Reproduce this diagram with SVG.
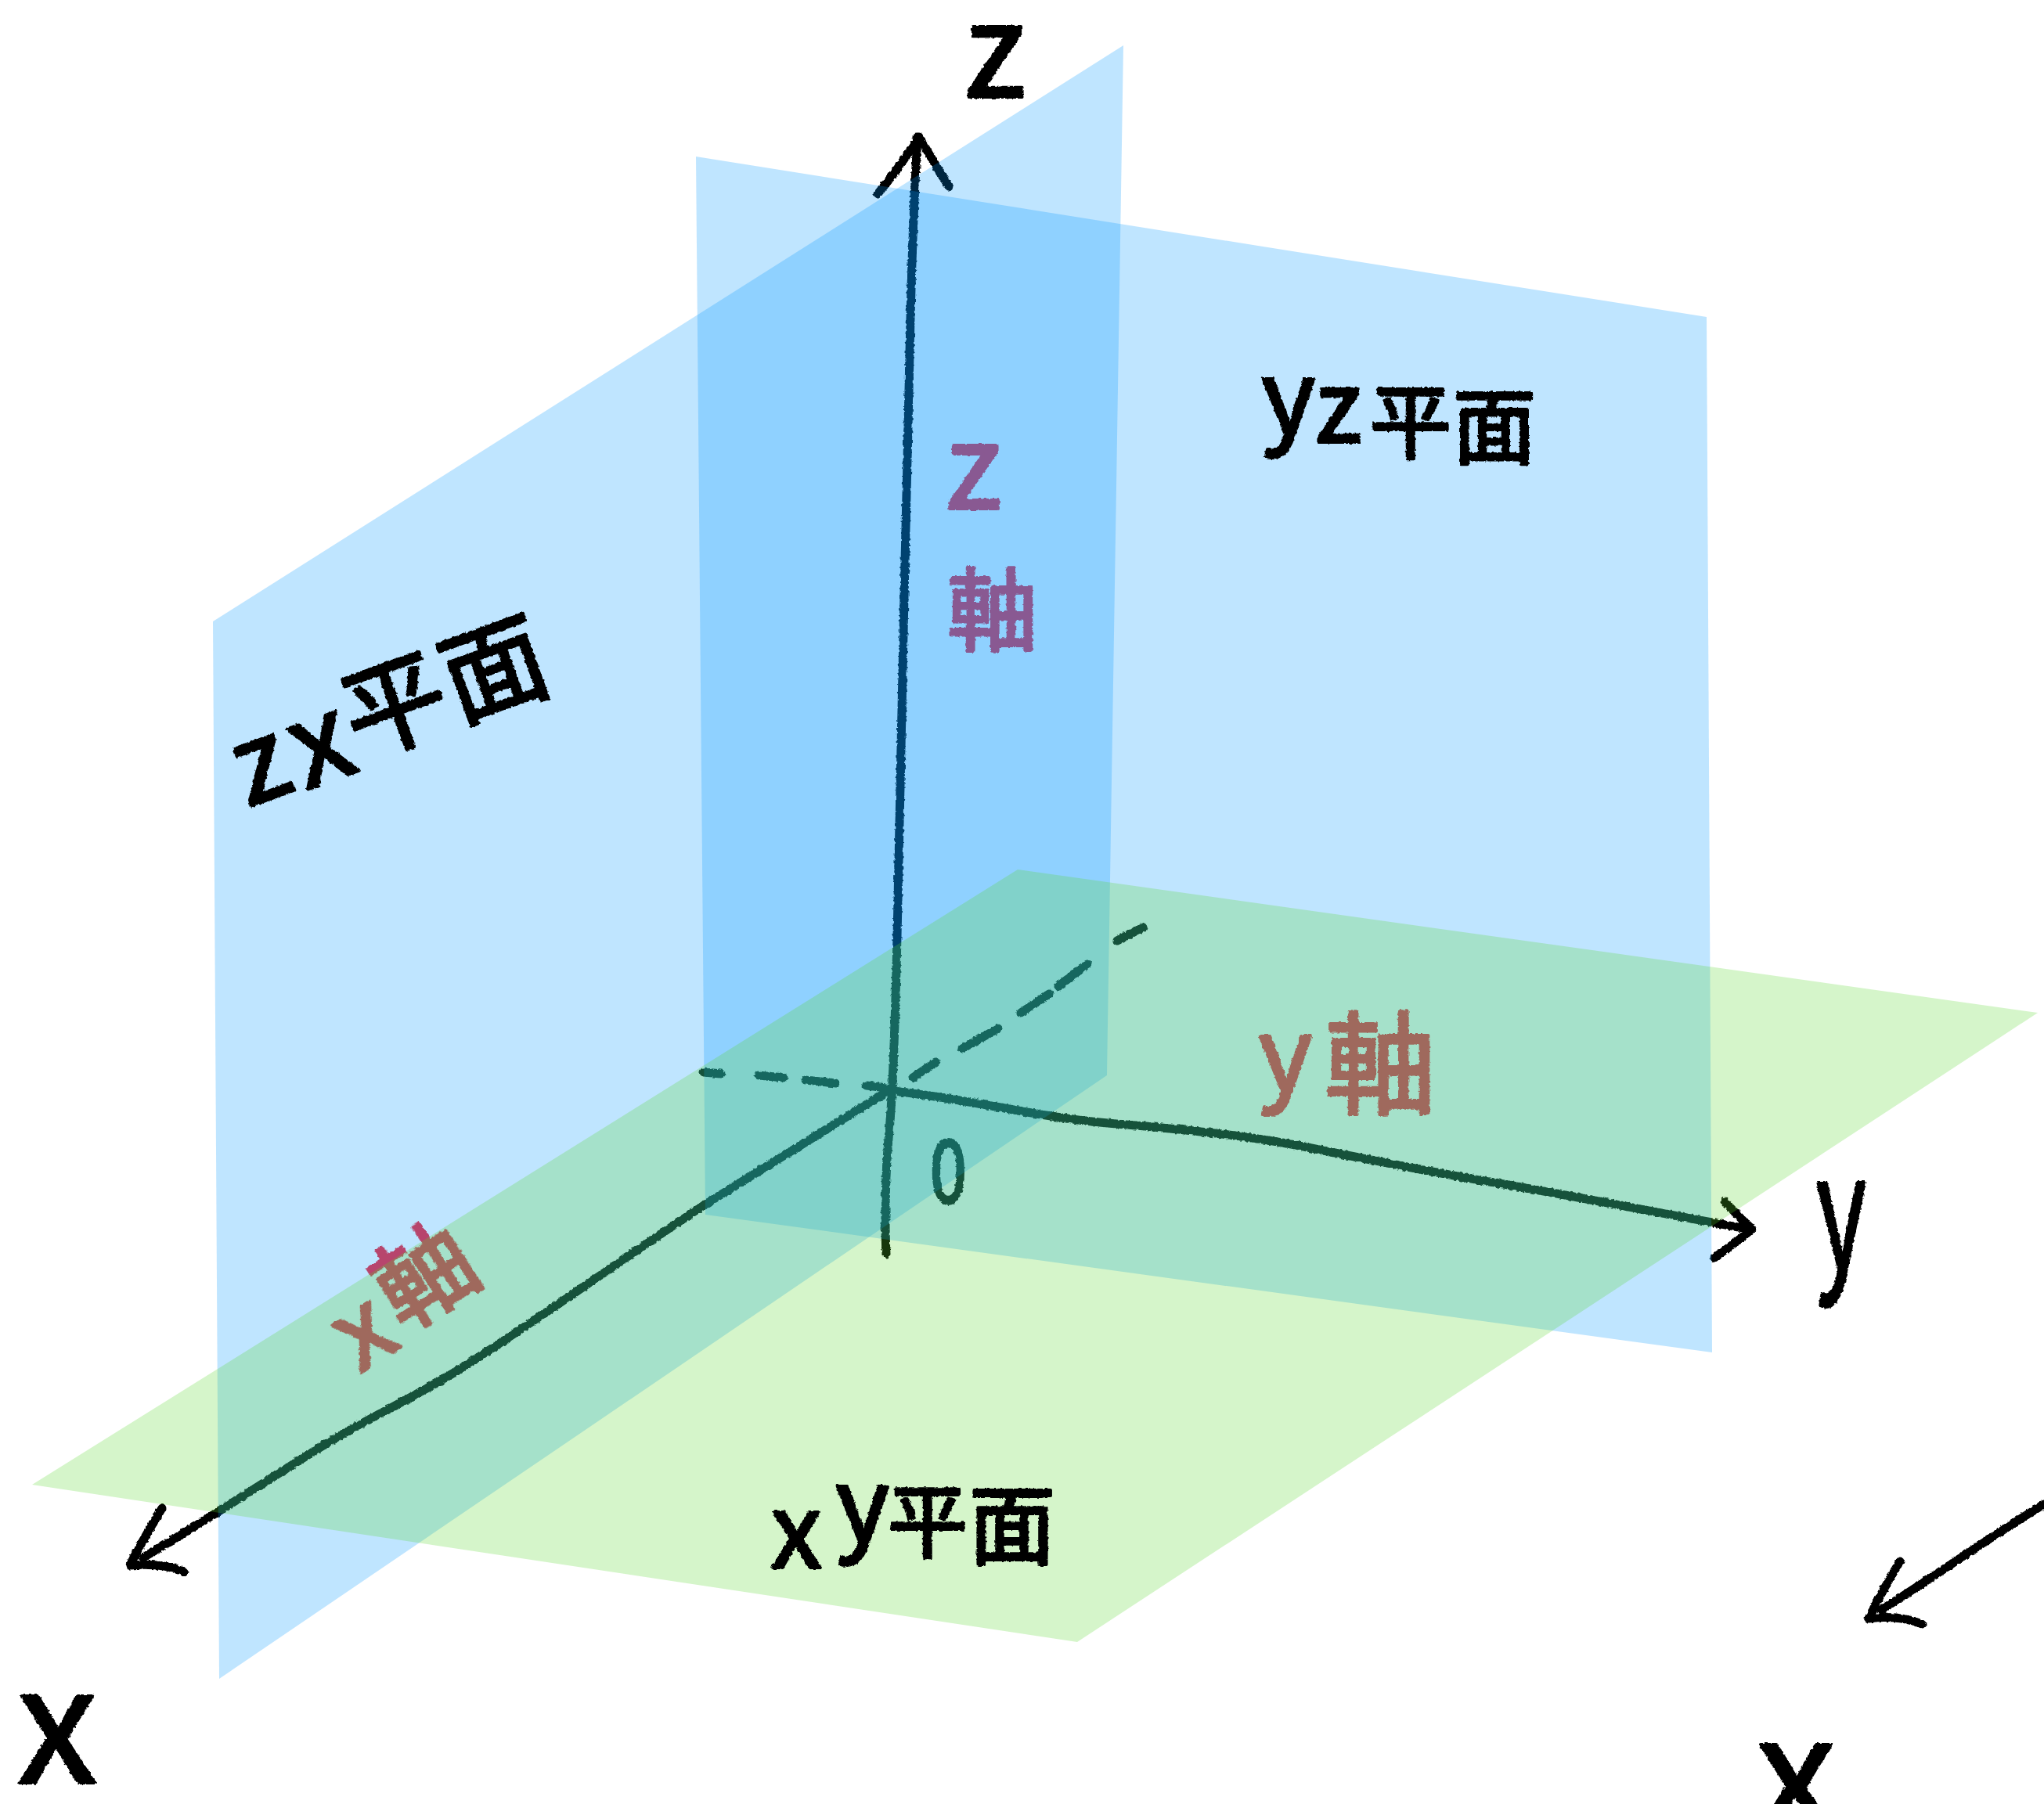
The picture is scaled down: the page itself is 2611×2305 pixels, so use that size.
<svg xmlns="http://www.w3.org/2000/svg" width="2611" height="2305" viewBox="0 0 2611 2305">
<defs>
<style>
.ink{fill:none;stroke:#000;stroke-width:11;stroke-linecap:round;stroke-linejoin:round}
.t{font-family:"Noto Sans CJK JP","Noto Sans",sans-serif;fill:#000;stroke:#000;stroke-width:4;stroke-linejoin:round}
.r{fill:#f42c3c;stroke:#f42c3c}
.blue{fill:#0098ff;fill-opacity:.25}
.green{fill:#57d72b;fill-opacity:.25}
</style>
<filter id="rough" x="0" y="0" width="2611" height="2305" filterUnits="userSpaceOnUse">
<feTurbulence type="fractalNoise" baseFrequency="0.25" numOctaves="2" seed="3"/>
<feDisplacementMap in="SourceGraphic" scale="4" xChannelSelector="R" yChannelSelector="G"/>
</filter>
</defs>
<rect width="2611" height="2305" fill="#fff"/>
<g id="connectors" class="ink" filter="url(#rough)">
<path id="axis-z" d="M1132 1602C1130 1560 1131 1499 1135 1455C1141 1400 1144 1300 1147 1150C1150 1000 1156 700 1161 500C1163 400 1165 300 1172 175"/>
<path d="M1121 248C1140 225 1158 200 1174 175C1186 195 1200 220 1212 238"/>
<path id="axis-x" d="M1141 1390C1060 1440 980 1490 899 1540C790 1612 690 1685 583 1752C530 1785 470 1812 416 1845C340 1892 260 1945 183 1990"/>
<path d="M207 1927C192 1952 178 1975 166 2000C190 1998 215 2000 235 2008"/>
<path id="axis-y" d="M1149 1395C1240 1405 1330 1428 1415 1435C1500 1442 1590 1450 1665 1465C1750 1482 1830 1498 1915 1512C2020 1530 2130 1552 2231 1570"/>
<path d="M2203 1535C2215 1548 2226 1560 2238 1570C2222 1585 2205 1596 2190 1607"/>
<path id="dashes" d="M899 1370L921 1372M969 1374L1001 1377M1029 1380L1067 1384M1107 1387L1132 1390M1166 1377L1195 1357M1229 1340L1275 1314M1304 1294L1340 1270M1352 1260L1389 1232M1427 1202L1460 1185"/>
<path id="arrow-third" d="M2611 1922C2540 1965 2470 2015 2403 2057"/>
<path d="M2427 1995C2412 2020 2398 2045 2387 2068C2410 2065 2435 2067 2455 2075"/>
</g>
<g id="labels-under" filter="url(#rough)">
<text id="label-o" class="t" transform="translate(1188 1537) scale(.75 1)" font-size="112">0</text>
<text id="label-z-axis" class="t r"><tspan x="1208" y="650" font-size="150">z</tspan><tspan x="1210" y="822" font-size="115">軸</tspan></text>
<text id="label-y-axis" class="t r"><tspan x="1608" y="1395" font-size="130">y</tspan><tspan x="1692" y="1412" font-size="142">軸</tspan></text>
<text id="label-x-axis" class="t r" transform="rotate(-33 462 1700)"><tspan x="430" y="1745" font-size="130">x</tspan><tspan x="505" y="1730" font-size="125">軸</tspan></text>
</g>
<g id="planes">
<polygon id="plane-zx" class="blue" points="272,794 1435,58 1414,1374 280,2145"/>
<polygon id="plane-yz" class="blue" points="889,200 2180,405 2187,1728 901,1552"/>
<polygon id="plane-xy" class="green" points="1300,1111 2603,1294 1376,2098 41,1897"/>
</g>
<g id="labels" filter="url(#rough)">
<text id="label-z" class="t" x="1232" y="124" font-size="165">z</text>
<text id="label-x" class="t" x="22" y="2278" font-size="205">x</text>
<text id="label-y" class="t" transform="translate(2320 1622) scale(.6 1)" font-size="205">y</text>
<text id="label-x2" class="t" x="2243" y="2340" font-size="205">x</text>
<text id="label-zx" class="t" transform="rotate(-20 300 1000)"><tspan x="305" y="1035" font-size="140">z</tspan><tspan x="382" y="1040" font-size="150">x</tspan><tspan x="460" y="1025" font-size="132">平</tspan><tspan x="595" y="1025" font-size="132">面</tspan></text>
<text id="label-yz" class="t"><tspan x="1612" y="555" font-size="130">y</tspan><tspan x="1680" y="565" font-size="125">z</tspan><tspan x="1750" y="578" font-size="104">平</tspan><tspan x="1856" y="584" font-size="106">面</tspan></text>
<text id="label-xy" class="t"><tspan x="985" y="2003" font-size="130">x</tspan><tspan x="1068" y="1970" font-size="130">y</tspan><tspan x="1134" y="1982" font-size="102">平</tspan><tspan x="1238" y="1990" font-size="110">面</tspan></text>
</g>
</svg>
